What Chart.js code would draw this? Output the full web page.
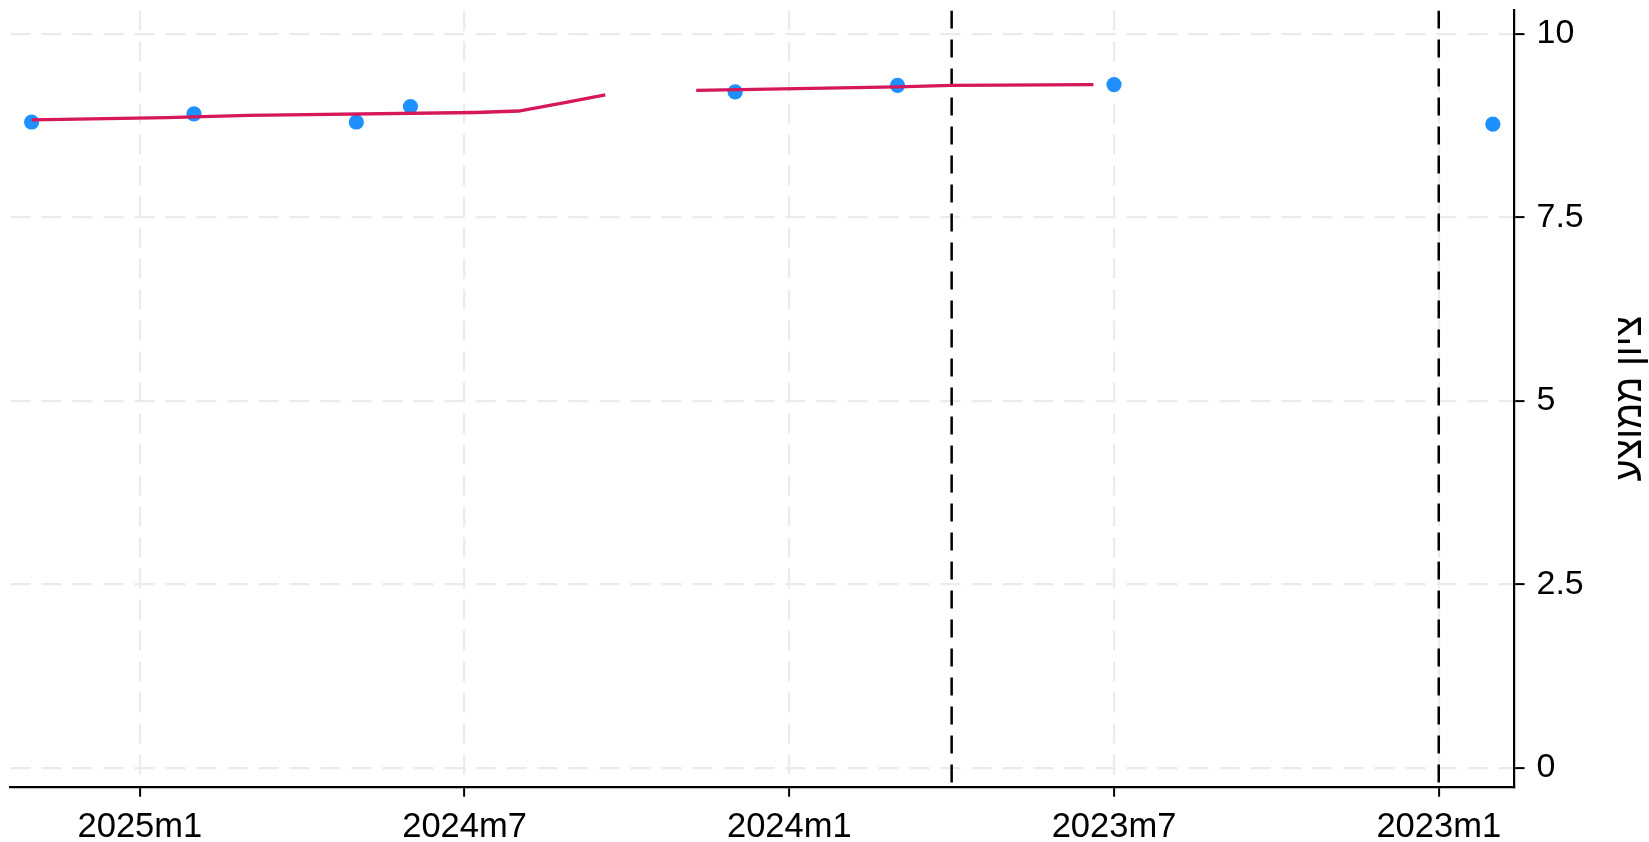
<!DOCTYPE html>
<html>
<head>
<meta charset="utf-8">
<script src="https://cdn.jsdelivr.net/npm/chart.js@4.4.0/dist/chart.umd.min.js"></script>
<style>html,body{margin:0;padding:0;background:#fff;}canvas{display:block;}</style>
</head>
<body>
<canvas id="c" width="1649" height="842"></canvas>
<script>
// month index: 0 = 2023m1 (axis is reversed: newest on the left)
const tickMonths = [0, 6, 12, 18, 24];
const tickLabels = ["2023m1", "2023m7", "2024m1", "2024m7", "2025m1"];
const yTickValues = [0, 2.5, 5, 7.5, 10];
const yTickLabels = ["0", "2.5", "5", "7.5", "10"];
const dotMonths = [26, 23, 20, 19, 13, 10, 6, -1];
const dotValues = [8.80, 8.91, 8.80, 9.01, 9.21, 9.30, 9.31, 8.77];
const lineMonths1 = [26, 23.5, 22, 17.8, 17, 16.1, 15.4];
const lineValues1 = [8.83, 8.86, 8.89, 8.93, 8.95, 9.07, 9.17];
const lineMonths2 = [13.72, 10, 9, 6.38];
const lineValues2 = [9.23, 9.28, 9.30, 9.31];
const refLineMonths = [9, 0];
const yTitle = "ציון ממוצע";

const xMin = -1.4, xMax = 26.39, yMin = -0.26, yMax = 10.32;
const FONT = "'Liberation Sans', Arial, 'DejaVu Sans', sans-serif";

const toPts = (xs, ys) => xs.map((x, i) => ({x: x, y: ys[i]}));
const linePts = toPts(lineMonths1, lineValues1)
  .concat([{x: (lineMonths1[lineMonths1.length - 1] + lineMonths2[0]) / 2, y: null}])
  .concat(toPts(lineMonths2, lineValues2));

const refSets = refLineMonths.map(m => ({
  type: 'line',
  data: [{x: m, y: yMax}, {x: m, y: yMin}],
  borderColor: '#000',
  borderWidth: 2.5,
  borderDash: [18, 11],
  pointRadius: 0,
  order: 3
}));

const titlePlugin = {
  id: 'ytitle',
  afterDraw(chart) {
    const ctx = chart.ctx, a = chart.chartArea;
    ctx.save();
    ctx.translate(1631, (a.top + a.bottom) / 2);
    ctx.rotate(-Math.PI / 2);
    ctx.fillStyle = '#000';
    ctx.font = "38px " + FONT;
    ctx.textAlign = 'center';
    ctx.textBaseline = 'middle';
    ctx.fillText(yTitle, 0, 0);
    ctx.restore();
  }
};

new Chart(document.getElementById('c'), {
  type: 'line',
  data: {
    datasets: [
      {
        type: 'line',
        data: linePts,
        borderColor: '#D6175C',
        borderWidth: 3.3,
        pointRadius: 0,
        spanGaps: false,
        tension: 0,
        order: 1
      },
      {
        type: 'scatter',
        data: toPts(dotMonths, dotValues),
        backgroundColor: '#1E90FF',
        borderColor: '#1E90FF',
        borderWidth: 0,
        pointRadius: 7.6,
        order: 2
      }
    ].concat(refSets)
  },
  options: {
    responsive: false,
    animation: false,
    devicePixelRatio: 1,
    layout: {padding: {left: 10.5, top: 10.5, right: 0, bottom: 0}},
    plugins: {legend: {display: false}, tooltip: {enabled: false}},
    scales: {
      x: {
        type: 'linear',
        reverse: true,
        min: xMin,
        max: xMax,
        afterBuildTicks(s) { s.ticks = tickMonths.map(v => ({value: v})); },
        afterFit(s) { s.height = 55.3; s.paddingLeft = 0; s.paddingRight = 0; },
        ticks: {
          callback(v) { const i = tickMonths.indexOf(v); return i >= 0 ? tickLabels[i] : ''; },
          color: '#000',
          font: {family: FONT, size: 34.5},
          padding: 10,
          maxRotation: 0,
          autoSkip: false
        },
        grid: {
          color: '#ebebeb',
          lineWidth: 2.2,
          tickColor: '#000',
          tickWidth: 2,
          tickLength: 10,
          tickBorderDash: []
        },
        border: {display: true, color: '#000', width: 2.2, dash: [20, 11]}
      },
      y: {
        type: 'linear',
        position: 'right',
        min: yMin,
        max: yMax,
        afterBuildTicks(s) { s.ticks = yTickValues.map(v => ({value: v})); },
        afterFit(s) { s.width = 134.5; s.paddingTop = 0; s.paddingBottom = 0; },
        ticks: {
          callback(v) { const i = yTickValues.indexOf(v); return i >= 0 ? yTickLabels[i] : ''; },
          color: '#000',
          font: {family: FONT, size: 34},
          padding: 12
        },
        grid: {
          color: '#ebebeb',
          lineWidth: 2.2,
          tickColor: '#000',
          tickWidth: 2,
          tickLength: 10,
          tickBorderDash: []
        },
        border: {display: true, color: '#000', width: 2.2, dash: [20, 11]}
      }
    }
  },
  plugins: [titlePlugin]
});
</script>
</body>
</html>
